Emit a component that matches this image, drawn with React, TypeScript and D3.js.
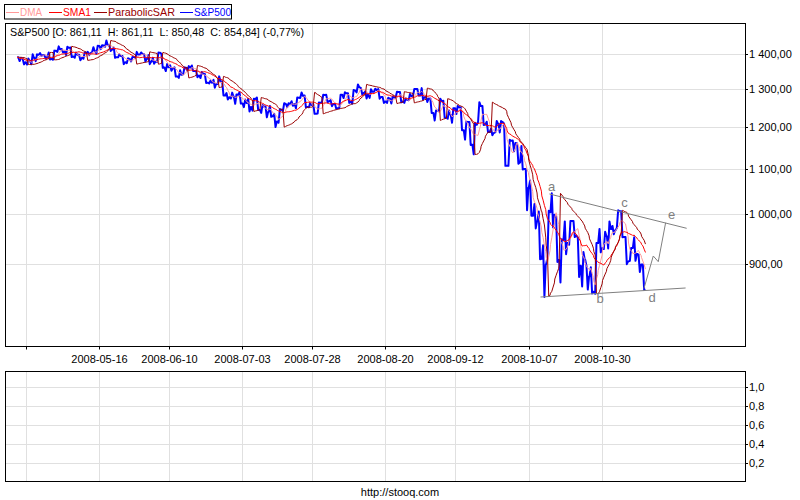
import React from "react";
import * as d3 from "d3";

// ---------------- DATA ----------------
const tradingDays = [
  "2008-04-21","2008-04-22","2008-04-23","2008-04-24","2008-04-25","2008-04-28","2008-04-29","2008-04-30",
  "2008-05-01","2008-05-02","2008-05-05","2008-05-06","2008-05-07","2008-05-08","2008-05-09","2008-05-12","2008-05-13","2008-05-14","2008-05-15","2008-05-16","2008-05-19","2008-05-20","2008-05-21","2008-05-22","2008-05-23","2008-05-27","2008-05-28","2008-05-29","2008-05-30",
  "2008-06-02","2008-06-03","2008-06-04","2008-06-05","2008-06-06","2008-06-09","2008-06-10","2008-06-11","2008-06-12","2008-06-13","2008-06-16","2008-06-17","2008-06-18","2008-06-19","2008-06-20","2008-06-23","2008-06-24","2008-06-25","2008-06-26","2008-06-27","2008-06-30",
  "2008-07-01","2008-07-02","2008-07-03","2008-07-07","2008-07-08","2008-07-09","2008-07-10","2008-07-11","2008-07-14","2008-07-15","2008-07-16","2008-07-17","2008-07-18","2008-07-21","2008-07-22","2008-07-23","2008-07-24","2008-07-25","2008-07-28","2008-07-29","2008-07-30","2008-07-31",
  "2008-08-01","2008-08-04","2008-08-05","2008-08-06","2008-08-07","2008-08-08","2008-08-11","2008-08-12","2008-08-13","2008-08-14","2008-08-15","2008-08-18","2008-08-19","2008-08-20","2008-08-21","2008-08-22","2008-08-25","2008-08-26","2008-08-27","2008-08-28","2008-08-29",
  "2008-09-02","2008-09-03","2008-09-04","2008-09-05","2008-09-08","2008-09-09","2008-09-10","2008-09-11","2008-09-12","2008-09-15","2008-09-16","2008-09-17","2008-09-18","2008-09-19","2008-09-22","2008-09-23","2008-09-24","2008-09-25","2008-09-26","2008-09-29","2008-09-30",
  "2008-10-01","2008-10-02","2008-10-03","2008-10-06","2008-10-07","2008-10-08","2008-10-09","2008-10-10","2008-10-13","2008-10-14","2008-10-15","2008-10-16","2008-10-17","2008-10-20","2008-10-21","2008-10-22","2008-10-23","2008-10-24","2008-10-27","2008-10-28","2008-10-29","2008-10-30","2008-10-31",
  "2008-11-03","2008-11-04","2008-11-05","2008-11-06","2008-11-07","2008-11-10","2008-11-11","2008-11-12",
];

const highs = [
  1390.2,1386.3,1387.0,1399.0,1399.0,1402.9,1397.0,1404.6,
  1410.0,1422.7,1415.0,1421.6,1419.4,1404.1,1398.0,1404.1,1406.3,1420.2,1424.4,1425.8,1440.2,1424.5,1419.3,1399.1,1394.4,1387.4,1391.3,1406.3,1404.5,
  1399.4,1396.7,1388.7,1404.1,1400.1,1370.6,1366.8,1361.1,1353.0,1360.6,1364.7,1366.6,1350.9,1347.8,1342.4,1323.9,1326.0,1335.6,1321.0,1289.5,1290.7,
  1285.7,1292.2,1272.0,1273.9,1274.2,1277.4,1257.7,1253.4,1255.2,1234.4,1246.1,1262.3,1262.2,1267.7,1277.4,1291.2,1283.0,1263.2,1260.1,1264.4,1284.9,1284.8,
  1270.5,1260.9,1284.9,1291.7,1289.2,1297.9,1313.2,1303.0,1294.0,1300.1,1301.3,1300.2,1278.6,1276.7,1279.8,1293.2,1292.2,1275.8,1287.0,1300.7,1300.7,
  1303.0,1280.6,1275.0,1243.0,1274.4,1268.7,1243.4,1249.1,1255.1,1250.9,1214.1,1213.6,1211.6,1265.1,1255.1,1214.0,1196.9,1215.8,1215.8,1209.1,1169.0,
  1167.0,1160.0,1153.8,1099.2,1072.9,1021.1,1005.3,936.4,1006.9,1044.3,994.5,948.0,984.4,985.4,985.4,951.7,922.8,896.1,893.8,940.5,969.0,963.2,984.4,
  975.0,1007.5,1005.4,952.4,931.0,951.9,917.9,898.9,
];

const lows = [
  1379.3,1369.8,1369.3,1370.0,1379.0,1394.4,1386.7,1384.0,
  1383.0,1406.3,1404.4,1397.1,1391.2,1389.1,1381.4,1386.2,1396.3,1405.0,1401.2,1414.5,1421.6,1409.1,1388.8,1390.2,1370.5,1373.1,1378.2,1388.6,1398.1,
  1377.8,1370.4,1371.4,1377.2,1359.9,1350.7,1351.6,1335.0,1331.3,1341.7,1352.1,1350.5,1333.3,1330.9,1317.2,1315.7,1304.4,1314.3,1283.1,1272.0,1274.9,
  1260.7,1261.5,1252.0,1240.7,1242.8,1244.6,1236.8,1225.4,1226.7,1200.4,1211.4,1241.5,1251.8,1255.5,1248.8,1276.1,1251.5,1251.8,1234.4,1235.0,1264.8,1265.1,
  1254.5,1247.5,1249.0,1276.0,1263.2,1261.1,1291.4,1285.7,1274.9,1276.4,1292.9,1274.5,1263.1,1263.1,1261.5,1277.7,1264.7,1263.2,1270.3,1282.1,1282.8,
  1272.2,1265.6,1236.8,1217.3,1242.3,1224.5,1221.6,1211.5,1233.8,1192.7,1169.3,1155.9,1133.5,1213.3,1205.6,1187.8,1179.8,1187.8,1187.0,1106.4,1106.4,
  1140.8,1111.4,1098.1,1007.9,996.2,970.0,909.2,839.8,912.8,972.1,903.9,865.8,918.7,937.3,952.5,875.8,858.4,852.9,845.8,845.3,922.3,928.9,930.0,
  958.0,971.0,952.2,899.7,906.0,906.0,884.9,852.3,
];

const closes = [
  1388.17,1375.94,1379.93,1388.82,1397.84,1396.37,1390.94,1385.59,
  1409.34,1413.90,1407.49,1418.26,1392.57,1397.68,1388.28,1403.58,1403.04,1408.66,1423.57,1425.35,1426.63,1413.40,1390.71,1394.35,1375.93,1385.35,1390.84,1398.26,1400.38,
  1385.67,1377.65,1377.20,1404.05,1360.68,1361.76,1358.44,1335.49,1339.87,1360.03,1360.14,1350.93,1337.81,1342.83,1317.93,1318.00,1314.29,1321.97,1283.15,1278.38,1280.00,
  1284.91,1261.52,1262.90,1252.31,1273.70,1244.69,1253.39,1239.49,1228.30,1214.91,1245.36,1260.32,1260.68,1260.00,1277.00,1282.19,1252.54,1257.76,1234.37,1263.20,1284.26,1267.38,
  1260.31,1249.01,1284.88,1289.19,1266.07,1296.32,1305.32,1289.59,1285.83,1292.93,1298.20,1278.60,1266.69,1274.54,1277.72,1292.20,1266.84,1271.51,1281.66,1300.68,1282.83,
  1277.58,1274.98,1236.83,1242.31,1267.79,1224.51,1232.04,1249.05,1251.70,1192.70,1213.60,1156.39,1206.51,1255.08,1207.09,1188.22,1185.87,1209.18,1213.27,1106.39,1166.36,
  1161.06,1114.28,1099.23,1056.89,996.23,984.94,909.92,899.22,1003.35,998.01,907.84,946.43,940.55,985.40,955.05,896.78,908.11,876.77,848.92,940.51,930.09,954.09,968.75,
  966.30,1005.75,952.77,904.88,930.99,919.21,898.95,852.30,
];
const firstOpen = 1390.3;

// legend
const seriesNames = ["DMA", "SMA1", "ParabolicSAR", "S&P500"];
const seriesColors = ["#ff9999", "#ff0000", "#990000", "#0000ff"];

// header: last bar
const lastBarLabels = ["O", "H", "L", "C"];
const lastBarValues = [861.11, 861.11, 850.48, 854.84];
const lastChangePct = -0.77;

// axes
const priceTicks = [900, 1000, 1100, 1200, 1300, 1400];
const lowerTicks = [0.2, 0.4, 0.6, 0.8, 1.0];
const gridDates = ["2008-04-23","2008-05-16","2008-06-10","2008-07-03","2008-07-28","2008-08-20","2008-09-12","2008-10-07","2008-10-30"];

// wave annotation (bar index, price)
const upperTrendIdx = [122.8, 154.45];
const upperTrendVal = [1042.9, 970.2];
const lowerTrendIdx = [120.75, 154.2];
const lowerTrendVal = [839.6, 855.7];
const projectionIdx = [144.6, 146.75, 147.9, 149.6];
const projectionVal = [854.6, 915.3, 904.4, 981.7];
const waveLabels = ["a", "b", "c", "d", "e"];
const waveLabelIdx = [123.3, 134.5, 140.1, 146.5, 151.0];
const waveLabelVal = [1059, 837.4, 1024.8, 838, 999.2];

// ---------------- CHART ----------------
const FONT = "'Liberation Sans', Arial, sans-serif";

type P = { i: number; v: number };

export default function App() {
  const W = 800, H = 500;
  const L = 5, R = 745;
  const mTop = 23, mBot = 346.5;
  const lTop = 371.5, lBot = 481.5;

  const x = d3.scaleLinear().domain([-2.73, 167.9]).range([L, R]);
  const y = d3.scaleLog().domain([900, 1400]).range([264, 54]);
  const yl = d3.scaleLinear().domain([0, 1]).range([481.5, 387.3]);

  const loc = d3.formatLocale({ decimal: ",", thousands: " ", grouping: [3], currency: ["", ""], minus: "-" } as any);
  const fPrice = loc.format(",.2f");
  const f2 = loc.format(".2f");
  const f1 = loc.format(".1f");

  // intraday-like path from daily OHLC
  const pts: P[] = [];
  const offs = [0.05, 0.35, 0.65, 0.95];
  closes.forEach((c, i) => {
    const o = i === 0 ? firstOpen : closes[i - 1];
    const seq = c >= o ? [o, lows[i], highs[i], c] : [o, highs[i], lows[i], c];
    seq.forEach((v, k) => pts.push({ i: i + offs[k], v }));
  });

  const sma = (n: number): P[] =>
    pts.map((p, k) => {
      const s = pts.slice(Math.max(0, k - n + 1), k + 1);
      return { i: p.i, v: d3.mean(s, (d) => d.v) as number };
    });
  const sma1 = sma(24);
  const dma = sma(8);

  // Parabolic SAR on sub-bars (consecutive intraday points)
  const bh: number[] = [], bl: number[] = [], bi: number[] = [], bc: number[] = [];
  for (let k = 1; k < pts.length; k++) {
    bh.push(Math.max(pts[k - 1].v, pts[k].v));
    bl.push(Math.min(pts[k - 1].v, pts[k].v));
    bi.push(pts[k].i);
    bc.push(pts[k].v);
  }
  const sar: P[] = [];
  {
    let up = bc[1] > bc[0];
    let s = up ? bl[0] : bh[0];
    let ep = up ? bh[0] : bl[0];
    let af = 0.02;
    sar.push({ i: bi[0], v: s });
    for (let k = 1; k < bh.length; k++) {
      s = s + af * (ep - s);
      if (up) {
        s = Math.min(s, bl[k - 1], k > 1 ? bl[k - 2] : bl[k - 1]);
        if (bl[k] < s) {
          up = false; s = ep; ep = bl[k]; af = 0.02;
        } else if (bh[k] > ep) {
          ep = bh[k]; af = Math.min(af + 0.02, 0.2);
        }
      } else {
        s = Math.max(s, bh[k - 1], k > 1 ? bh[k - 2] : bh[k - 1]);
        if (bh[k] > s) {
          up = true; s = ep; ep = bh[k]; af = 0.02;
        } else if (bl[k] < ep) {
          ep = bl[k]; af = Math.min(af + 0.02, 0.2);
        }
      }
      sar.push({ i: bi[k], v: s });
    }
  }

  const line = d3.line<P>().x((d) => x(d.i)).y((d) => y(d.v));
  const pairLine = (is: number[], vs: number[]) => line(is.map((i, k) => ({ i, v: vs[k] })));

  const gridX = gridDates.map((d) => Math.round(x(tradingDays.indexOf(d))) + 0.5);
  const header =
    "S&P500 [" +
    lastBarLabels.map((l, k) => `${l}: ${f2(lastBarValues[k])}`).join("  ") +
    `] (${f2(lastChangePct)}%)`;

  const legendX = [6, 49, 94, 180];
  const legendW = [22, 28, 67, 37];
  const grid = "#e0e0e0";

  return (
    <svg width={W} height={H} style={{ position: "absolute", left: 0, top: 0, background: "#fff" }} fontFamily={FONT}>
      <rect x={0} y={0} width={W} height={H} fill="#fff" />
      <defs>
        <clipPath id="mainClip">
          <rect x={L + 1} y={mTop + 1} width={R - L - 1} height={mBot - mTop - 1} />
        </clipPath>
      </defs>

      {/* legend */}
      <rect x={4.5} y={4.5} width={227} height={14.5} fill="#fff" stroke="#000" />
      {seriesNames.map((n, k) => (
        <g key={n}>
          <line x1={legendX[k]} x2={legendX[k] + 13} y1={12.5} y2={12.5} stroke={seriesColors[k]} />
          <text x={legendX[k] + 14} y={12} dy="0.35em" fontSize={11} fill={seriesColors[k]}
            textLength={legendW[k]} lengthAdjust="spacingAndGlyphs">{n}</text>
        </g>
      ))}

      {/* main panel grid */}
      {gridX.map((gx, k) => (
        <line key={"gx" + k} x1={gx} x2={gx} y1={mTop} y2={mBot} stroke={grid} />
      ))}
      {priceTicks.map((t) => (
        <line key={"gy" + t} x1={L} x2={R} y1={Math.round(y(t)) + 0.5} y2={Math.round(y(t)) + 0.5} stroke={grid} />
      ))}

      {/* header label */}
      <rect x={L + 1} y={mTop + 1} width={300} height={15} fill="#fff" />
      <text x={10} y={32.5} dy="0.35em" fontSize={11} fill="#000" style={{ whiteSpace: "pre" }}
        textLength={294} lengthAdjust="spacingAndGlyphs">{header}</text>

      <g clipPath="url(#mainClip)">
        <path d={line(pts) || ""} fill="none" stroke={seriesColors[3]} strokeWidth={2} strokeLinejoin="round" />
        <path d={line(dma) || ""} fill="none" stroke={seriesColors[0]} strokeWidth={1} />
        <path d={line(sma1) || ""} fill="none" stroke={seriesColors[1]} strokeWidth={1} />
        <path d={line(sar) || ""} fill="none" stroke={seriesColors[2]} strokeWidth={1} />

        {/* wave annotation */}
        <path d={pairLine(upperTrendIdx, upperTrendVal) || ""} fill="none" stroke="#808080" />
        <path d={pairLine(lowerTrendIdx, lowerTrendVal) || ""} fill="none" stroke="#808080" />
        <path d={pairLine(projectionIdx, projectionVal) || ""} fill="none" stroke="#808080" />
        {waveLabels.map((w, k) => (
          <text key={w} x={x(waveLabelIdx[k])} y={y(waveLabelVal[k])} dy="0.35em" textAnchor="middle" fontSize={13} fill="#808080">{w}</text>
        ))}
      </g>

      {/* main panel frame and axis */}
      <rect x={L + 0.5} y={mTop + 0.5} width={R - L} height={mBot - mTop - 0.5} fill="none" stroke="#000" />
      {priceTicks.map((t) => (
        <g key={"py" + t}>
          <line x1={R} x2={R + 3} y1={Math.round(y(t)) + 0.5} y2={Math.round(y(t)) + 0.5} stroke="#000" />
          <text x={R + 4} y={Math.round(y(t)) + 0.5} dy="0.35em" fontSize={11} fill="#000">{fPrice(t)}</text>
        </g>
      ))}
      {gridX.map((gx, k) => (
        <g key={"xl" + k}>
          <line x1={gx} x2={gx} y1={mBot} y2={mBot + 3} stroke="#000" />
          {gx - 28 > 0 && (
            <text x={gx} y={359.5} dy="0.35em" textAnchor="middle" fontSize={11} fill="#000">{gridDates[k]}</text>
          )}
        </g>
      ))}

      {/* lower panel */}
      {gridX.map((gx, k) => (
        <line key={"lgx" + k} x1={gx} x2={gx} y1={lTop} y2={lBot} stroke={grid} />
      ))}
      {lowerTicks.map((t) => (
        <line key={"lgy" + t} x1={L} x2={R} y1={Math.round(yl(t)) + 0.5} y2={Math.round(yl(t)) + 0.5} stroke={grid} />
      ))}
      <rect x={L + 0.5} y={lTop} width={R - L} height={lBot - lTop} fill="none" stroke="#000" />
      {lowerTicks.map((t) => (
        <g key={"ly" + t}>
          <line x1={R} x2={R + 3} y1={Math.round(yl(t)) + 0.5} y2={Math.round(yl(t)) + 0.5} stroke="#000" />
          <text x={R + 4} y={Math.round(yl(t)) + 0.5} dy="0.35em" fontSize={11} fill="#000">{f1(t)}</text>
        </g>
      ))}

      <text x={W / 2} y={492} dy="0.35em" textAnchor="middle" fontSize={11} fill="#000">http://stooq.com</text>
    </svg>
  );
}
